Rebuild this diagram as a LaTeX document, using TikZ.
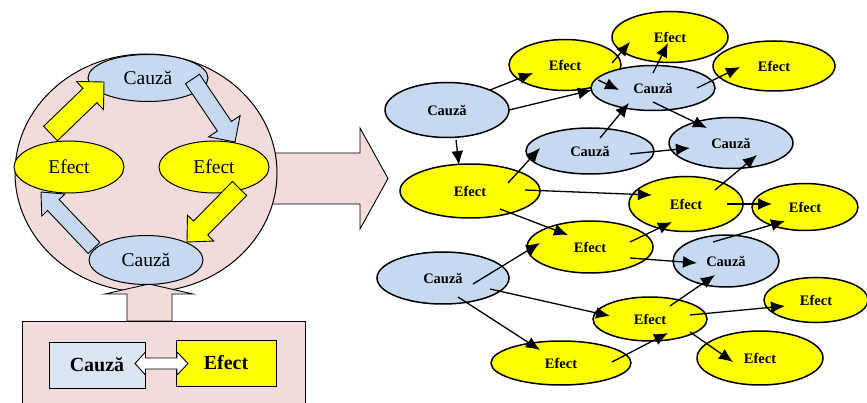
\documentclass[tikz,border=0pt]{standalone}
\usepackage{fontspec}
\setmainfont{Liberation Serif}
\usetikzlibrary{shapes.geometric,arrows.meta,calc}
\definecolor{cpink}{HTML}{F2DCDB}
\definecolor{cblue}{HTML}{C6D9F1}
\definecolor{cbluebox}{HTML}{DBE5F1}
\definecolor{cyel}{HTML}{FFFF00}
\newcommand{\blockarrow}[6]{%
  \coordinate (ba-h) at ($(#3)!#6!(#2)$);
  \path[#1] ($(#2)!#4!90:(#3)$) -- ($(ba-h)!#4!90:(#3)$) -- ($(ba-h)!#5!90:(#3)$) -- (#3)
    -- ($(ba-h)!#5!-90:(#3)$) -- ($(ba-h)!#4!-90:(#3)$) -- ($(#2)!#4!-90:(#3)$) -- cycle;
}
\begin{document}
\begin{tikzpicture}[x=1pt,y=-1pt,
  lnode/.style={ellipse, draw, line width=1pt, inner sep=0pt, font=\fontsize{19.5}{20}\selectfont},
  rnode/.style={ellipse, draw, line width=1.5pt, inner sep=0pt, font=\bfseries\fontsize{14.5}{15}\selectfont},
  rc/.style={rnode, fill=cblue},
  re/.style={rnode, fill=cyel},
  blk/.style={draw, line width=0.9pt, line join=miter},
  arr/.style={line width=1.3pt, -{Latex[length=14pt,width=12pt]}}
]
\useasboundingbox (0,0) rectangle (867,403);

% big arrow to the right
\path[blk, fill=cpink] (262,153) -- (360,153) -- (360,128) -- (388,178.5) -- (360,229) -- (360,204) -- (262,204) -- cycle;

% circle
\node[ellipse, draw, line width=1pt, fill=cpink, minimum width=262pt, minimum height=238pt] (circ) at (146,173) {};

% up arrow
\path[blk, fill=cpink] (127,321) -- (127,294) -- (105,294) -- (149,284) -- (193,294) -- (172,294) -- (172,321) -- cycle;

% bottom box
\path[draw, line width=1pt, fill=cpink] (22,412) -- (22,321) -- (305,321) -- (305,412);
\node[draw, line width=1pt, fill=cbluebox, minimum width=96pt, minimum height=46pt, inner sep=0pt,
      font=\bfseries\fontsize{20}{20}\selectfont] (bc) at (97,365) {Cauză};
\node[draw, line width=1pt, fill=cyel, minimum width=100pt, minimum height=46pt, inner sep=0pt,
      font=\bfseries\fontsize{20}{20}\selectfont] (be) at (226,363) {Efect};
\path[blk, fill=white] (135,363.5) -- (145.5,352) -- (145.5,358) -- (177,358) -- (177,352) -- (188,363.5)
   -- (177,375) -- (177,369) -- (145.5,369) -- (145.5,375) -- cycle;

% left cycle nodes
\node[lnode, fill=cblue, minimum width=120pt, minimum height=47pt] (lc1) at (148,78) {Cauză};
\node[lnode, fill=cyel, minimum width=110pt, minimum height=52pt] (le1) at (69,167) {Efect};
\node[lnode, fill=cyel, minimum width=110pt, minimum height=52pt] (le2) at (214,167) {Efect};
\node[lnode, fill=cblue, minimum width=114pt, minimum height=49pt] (lc2) at (146,260) {Cauză};

% left block arrows
\coordinate (ya1t) at (50.5,133.5); \coordinate (ya1h) at (104,82);
\coordinate (ba1t) at (192.5,79);   \coordinate (ba1h) at (235,142);
\coordinate (ya2t) at (239.5,188.5); \coordinate (ya2h) at (187,242);
\coordinate (ba2t) at (94,248);     \coordinate (ba2h) at (41,192);
\blockarrow{blk, fill=cyel}{ya1t}{ya1h}{10pt}{19.5pt}{19.5pt}
\blockarrow{blk, fill=cblue}{ba1t}{ba1h}{8.5pt}{19pt}{19pt}
\blockarrow{blk, fill=cyel}{ya2t}{ya2h}{10pt}{18.5pt}{19.5pt}
\blockarrow{blk, fill=cblue}{ba2t}{ba2h}{8pt}{16pt}{18pt}

% right graph nodes
\node[rc, minimum width=124pt, minimum height=55pt] (A) at (447,110) {Cauză};
\node[re, minimum width=112pt, minimum height=51pt] (B) at (565,65) {Efect};
\node[re, minimum width=116pt, minimum height=51pt] (E) at (670,37) {Efect};
\node[rc, minimum width=124pt, minimum height=45pt] (F) at (653,88) {Cauză};
\node[re, minimum width=122pt, minimum height=50pt] (G) at (774,66) {Efect};
\node[rc, minimum width=128pt, minimum height=46pt] (C) at (590,151) {Cauză};
\node[rc, minimum width=124pt, minimum height=51pt] (H) at (731,143) {Cauză};
\node[re, minimum width=140pt, minimum height=54pt] (D) at (470,191) {Efect};
\node[re, minimum width=114pt, minimum height=55pt] (I) at (686,204) {Efect};
\node[re, minimum width=106pt, minimum height=47pt] (J) at (805,207) {Efect};
\node[re, minimum width=126pt, minimum height=52pt] (L) at (590,247) {Efect};
\node[rc, minimum width=106pt, minimum height=52pt] (K) at (726,261) {Cauză};
\node[rc, minimum width=132pt, minimum height=52pt] (P) at (443,278) {Cauză};
\node[re, minimum width=104pt, minimum height=45pt] (N) at (816,300) {Efect};
\node[re, minimum width=140pt, minimum height=44pt] (Q) at (561,363) {Efect};
\node[re, minimum width=126pt, minimum height=54pt] (O) at (760,358) {Efect};
\node[re, minimum width=114pt, minimum height=44pt] (M) at (650,319) {Efect};

% right graph edges
\draw[arr] ($(A)+(43,-20)$) -- ($(B)+(-32,8)$);
\draw[arr] ($(A)+(62,0)$) -- ($(F)+(-61,2)$);
\draw[arr] ($(A)+(9,30)$) -- ($(D)+(-11,-26)$);
\draw[arr] ($(D)+(38,-8)$) -- ($(C)+(-50,-3)$);
\draw[arr] ($(C)+(10,-13)$) -- ($(F)+(-24,15)$);
\draw[arr] ($(B)+(47,-2)$) -- ($(E)+(-40,5)$);
\draw[arr] ($(B)+(33,15)$) -- ($(F)+(-34,2)$);
\draw[arr] ($(F)+(0,-15)$) -- ($(E)+(-2,6)$);
\draw[arr] ($(F)+(44,0)$) -- ($(G)+(-34,1)$);
\draw[arr] ($(F)+(0,14)$) -- ($(H)+(-24,-15)$);
\draw[arr] ($(C)+(40,3)$) -- ($(H)+(-41,5)$);
\draw[arr] ($(I)+(29,-14)$) -- ($(H)+(26,12)$);
\draw[arr] ($(D)+(55,-1)$) -- ($(I)+(-34,-9)$);
\draw[arr] ($(D)+(30,18)$) -- ($(L)+(-22,-12)$);
\draw[arr] ($(P)+(30,6)$) -- ($(L)+(-50,-4)$);
\draw[arr] ($(P)+(47,11)$) -- ($(M)+(-40,-3)$);
\draw[arr] ($(P)+(15,19)$) -- ($(Q)+(-21,-13)$);
\draw[arr] ($(Q)+(51,-1)$) -- ($(M)+(18,14)$);
\draw[arr] ($(L)+(40,-5)$) -- ($(I)+(-14,18)$);
\draw[arr] ($(L)+(40,11)$) -- ($(K)+(-29,2)$);
\draw[arr] ($(I)+(41,0)$) -- ($(J)+(-33,-3)$);
\draw[arr] ($(K)+(-13,-19)$) -- ($(J)+(-20,14)$);
\draw[arr] ($(M)+(20,-13)$) -- ($(K)+(-11,14)$);
\draw[arr] ($(M)+(40,-4)$) -- ($(N)+(-31,6)$);
\draw[arr] ($(M)+(40,13)$) -- ($(O)+(-27,4)$);
\end{tikzpicture}
\end{document}
